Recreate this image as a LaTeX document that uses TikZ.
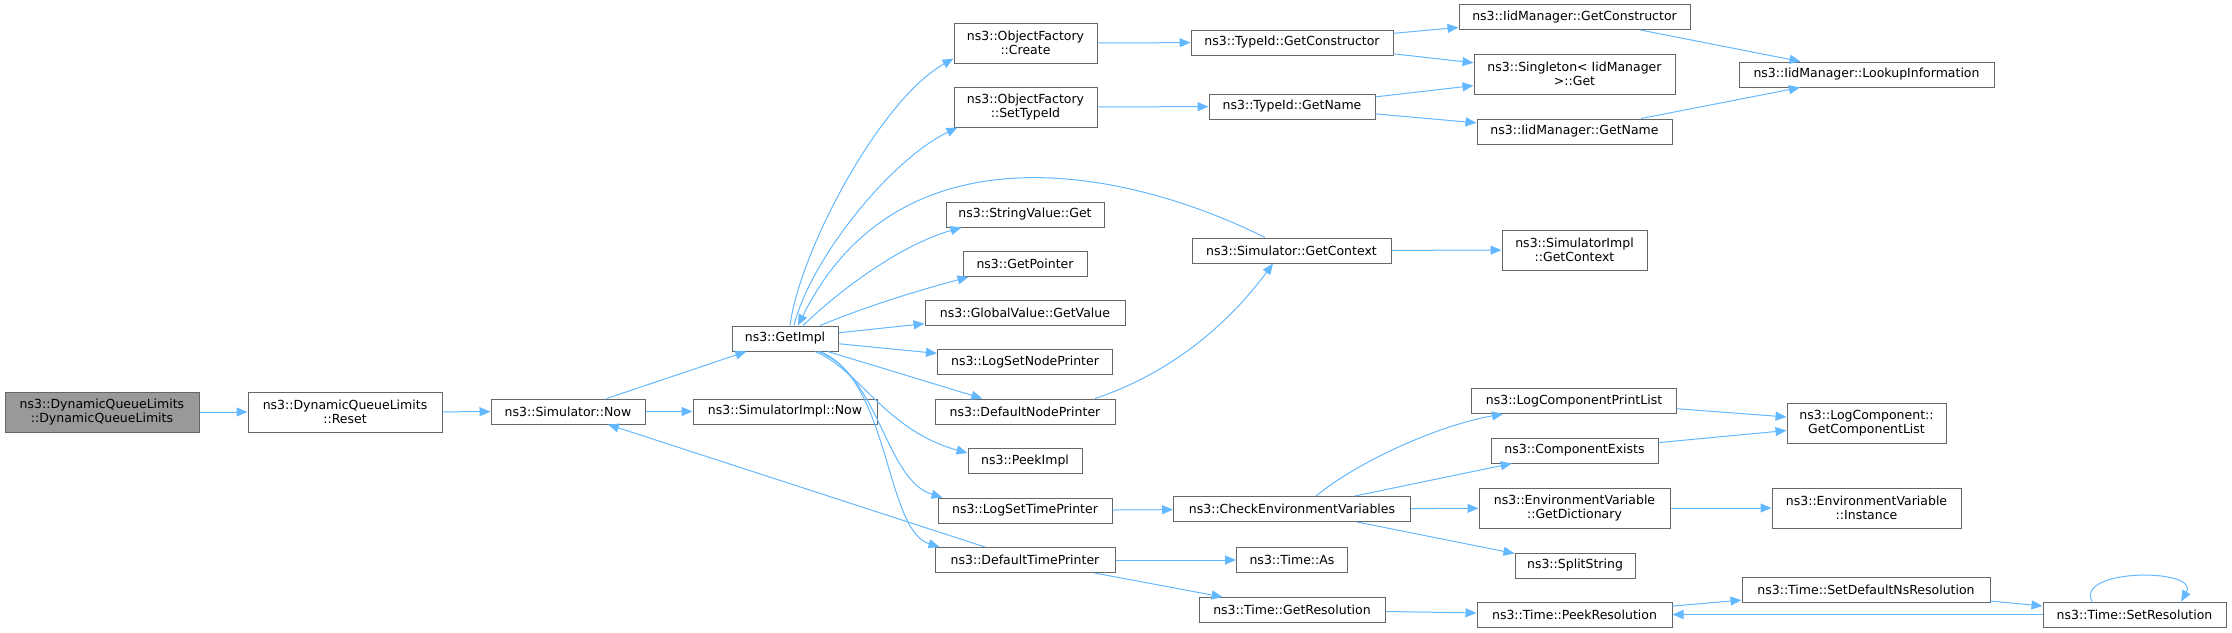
\documentclass[tikz,border=0pt]{standalone}
\usepackage{fontspec}
\setmainfont{DejaVu Sans}
\usepackage{xcolor}
\usepackage{tikz}
\usetikzlibrary{positioning,arrows.meta}
\definecolor{edgeblue}{RGB}{99,184,255}
\definecolor{boxgray}{RGB}{102,102,102}
\definecolor{rootgray}{RGB}{153,153,153}

\begin{document}
\begin{tikzpicture}[x=1pt,y=-1pt,
  fn/.style={draw=boxgray,line width=1pt,fill=white,inner sep=0pt,minimum height=25pt,
    align=center,font=\fontsize{12.5pt}{14.5pt}\selectfont},
  fntwo/.style={fn,minimum height=40pt},
  call/.style={draw=edgeblue,line width=1pt,-{Triangle[length=11pt,width=9pt]}}]
\useasboundingbox (0,0) rectangle (2232,632);
% callers
\node[fntwo,fill=rootgray,minimum width=194pt] (dql) at (102,412) {ns3::DynamicQueueLimits\\::DynamicQueueLimits};
\node[fntwo,minimum width=194pt] (reset) at (345,412) {ns3::DynamicQueueLimits\\::Reset};
\node[fn,minimum width=154pt] (simnow) at (568,411.5) {ns3::Simulator::Now};
\node[fn,minimum width=184pt] (implnow) at (785,411.5) {ns3::SimulatorImpl::Now};
\node[fn,minimum width=106pt] (getimpl) at (785,338.5) {ns3::GetImpl};
% what GetImpl calls
\node[fntwo,minimum width=143pt] (create) at (1025.5,43) {ns3::ObjectFactory\\::Create};
\node[fntwo,minimum width=143pt] (settypeid) at (1025.5,107) {ns3::ObjectFactory\\::SetTypeId};
\node[fn,minimum width=158pt] (strget) at (1025,214.5) {ns3::StringValue::Get};
\node[fn,minimum width=124pt] (getpointer) at (1025,264) {ns3::GetPointer};
\node[fn,minimum width=200pt] (globalvalue) at (1025,313) {ns3::GlobalValue::GetValue};
\node[fn,minimum width=175pt] (logsetnode) at (1025,362) {ns3::LogSetNodePrinter};
\node[fn,minimum width=180pt] (defnode) at (1025,411.5) {ns3::DefaultNodePrinter};
\node[fn,minimum width=114pt] (peekimpl) at (1025,461) {ns3::PeekImpl};
\node[fn,minimum width=174pt] (logsettime) at (1025,510.5) {ns3::LogSetTimePrinter};
\node[fn,minimum width=180pt] (deftime) at (1025,560) {ns3::DefaultTimePrinter};
% TypeId and IidManager
\node[fn,minimum width=202pt] (tidctor) at (1292,42.5) {ns3::TypeId::GetConstructor};
\node[fn,minimum width=166pt] (tidname) at (1292,106.5) {ns3::TypeId::GetName};
\node[fn,minimum width=231pt] (iidctor) at (1574.5,17) {ns3::IidManager::GetConstructor};
\node[fntwo,minimum width=201pt] (singleton) at (1574.5,74) {ns3::Singleton< IidManager\\ >::Get};
\node[fn,minimum width=195pt] (iidname) at (1574.5,131.5) {ns3::IidManager::GetName};
\node[fn,minimum width=255pt] (lookup) at (1866.5,74.5) {ns3::IidManager::LookupInformation};
\node[fn,minimum width=199pt] (simctx) at (1291.5,250.5) {ns3::Simulator::GetContext};
\node[fntwo,minimum width=145pt] (implctx) at (1574.5,250) {ns3::SimulatorImpl\\::GetContext};
% environment
\node[fn,minimum width=237pt] (checkenv) at (1292,509) {ns3::CheckEnvironmentVariables};
\node[fn,minimum width=205pt] (printlist) at (1574,401) {ns3::LogComponentPrintList};
\node[fn,minimum width=167pt] (compexists) at (1574.5,450.5) {ns3::ComponentExists};
\node[fntwo,minimum width=191pt] (getdict) at (1574.5,508) {ns3::EnvironmentVariable\\::GetDictionary};
\node[fn,minimum width=120pt] (split) at (1575,565.5) {ns3::SplitString};
\node[fntwo,minimum width=159pt] (complist) at (1866.5,423) {ns3::LogComponent::\\GetComponentList};
\node[fntwo,minimum width=189pt] (instance) at (1866.5,508) {ns3::EnvironmentVariable\\::Instance};
% time
\node[fn,minimum width=111pt] (timeas) at (1292,560) {ns3::Time::As};
\node[fn,minimum width=186pt] (getres) at (1292,610) {ns3::Time::GetResolution};
\node[fn,minimum width=195pt] (peekres) at (1574.5,614.5) {ns3::Time::PeekResolution};
\node[fn,minimum width=248pt] (setdefns) at (1866,589.5) {ns3::Time::SetDefaultNsResolution};
\node[fn,minimum width=183pt] (setres) at (2134.5,614.5) {ns3::Time::SetResolution};

% calls
\draw[call] (dql) -- (reset);
\draw[call] (reset) -- (simnow);
\draw[call] (simnow) -- (implnow);
\draw[call] (simnow) -- (getimpl);
\draw[call] ([xshift=5pt]getimpl.north) .. controls (800,250) and (880,100) .. ([yshift=5pt]create.south west);
\draw[call] ([xshift=9pt]getimpl.north) .. controls (810,260) and (890,160) .. ([xshift=4pt]settypeid.south west);
\draw[call] ([xshift=18pt]getimpl.north) .. controls (840,290) and (900,245) .. ([xshift=16pt]strget.south west);
\draw[call] ([xshift=35pt]getimpl.north) .. controls (870,305) and (920,290) .. ([xshift=6pt]getpointer.south west);
\draw[call] (getimpl) -- (globalvalue);
\draw[call] (getimpl) -- (logsetnode);
\draw[call] (getimpl) -- (defnode);
\draw[call] ([xshift=30pt]getimpl.south) .. controls (860,370) and (885,430) .. ([yshift=-5pt]peekimpl.north west);
\draw[call] ([xshift=33pt]getimpl.south) .. controls (880,375) and (885,480) .. ([xshift=5pt]logsettime.north west);
\draw[call] ([xshift=35pt]getimpl.south) .. controls (890,380) and (885,530) .. ([xshift=5pt]deftime.north west);
\draw[call] (create) -- (tidctor);
\draw[call] (settypeid) -- (tidname);
\draw[call] (tidctor) -- (iidctor);
\draw[call] (tidctor) -- (singleton);
\draw[call] (tidname) -- (singleton);
\draw[call] (tidname) -- (iidname);
\draw[call] (iidctor) -- (lookup);
\draw[call] (iidname) -- (lookup);
\draw[call] ([xshift=-26.5pt]simctx.north) .. controls (1130,170) and (900,120) .. ([xshift=13pt]getimpl.north);
\draw[call] (simctx) -- (implctx);
\draw[call] ([xshift=70pt]defnode.north) .. controls (1180,370) and (1235,315) .. ([xshift=-18.5pt]simctx.south);
\draw[call] (logsettime) -- (checkenv);
\draw[call] ([xshift=24pt]checkenv.north) .. controls (1360,460) and (1440,425) .. ([xshift=32pt]printlist.south west);
\draw[call] (checkenv) -- (compexists);
\draw[call] (checkenv) -- (getdict);
\draw[call] (checkenv) -- (split);
\draw[call] (printlist) -- (complist);
\draw[call] (compexists) -- (complist);
\draw[call] (getdict) -- (instance);
\draw[call] (deftime) -- (simnow);
\draw[call] (deftime) -- (timeas);
\draw[call] (deftime) -- (getres);
\draw[call] (getres) -- (peekres);
\draw[call] (peekres) -- (setdefns);
\draw[call] (setdefns) -- (setres);
\draw[call] (setres) -- (peekres);
\draw[call] ([xshift=-42.5pt]setres.north) .. controls (2075,568) and (2200,568) .. ([xshift=46.5pt]setres.north);
\end{tikzpicture}
\end{document}
